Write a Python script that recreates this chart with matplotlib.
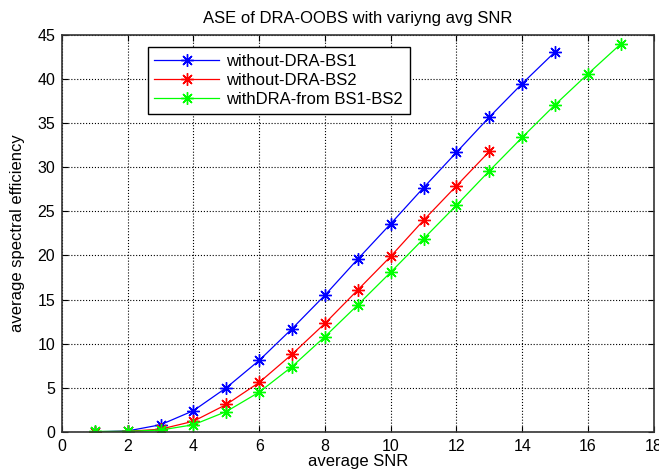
import numpy as np
import matplotlib.pyplot as plt

snr_bs1 = [1, 2, 3, 4, 5, 6, 7, 8, 9, 10, 11, 12, 13, 14, 15]
ase_bs1 = [0.0, 0.1, 0.8, 2.4, 5.0, 8.1, 11.7, 15.5, 19.6, 23.6, 27.7, 31.7, 35.7, 39.5, 43.1]

snr_bs2 = [1, 2, 3, 4, 5, 6, 7, 8, 9, 10, 11, 12, 13]
ase_bs2 = [0.0, 0.05, 0.3, 1.2, 3.1, 5.6, 8.8, 12.3, 16.1, 19.9, 24.0, 27.9, 31.8]

snr_dra = [1, 2, 3, 4, 5, 6, 7, 8, 9, 10, 11, 12, 13, 14, 15, 16, 17]
ase_dra = [0.05, 0.05, 0.2, 0.8, 2.3, 4.5, 7.4, 10.8, 14.4, 18.1, 21.9, 25.7, 29.6, 33.4, 37.1, 40.6, 44.0]

plt.rcParams['font.family'] = ['Liberation Sans', 'DejaVu Sans']

fig = plt.figure(figsize=(6.59, 4.74), dpi=100)
ax = fig.add_axes([0.094, 0.089, 0.898, 0.837])

star = (8, 2, 0)  # matlab-like asterisk
ax.plot(snr_bs1, ase_bs1, color='b', marker=star, markersize=9, mew=1.0, lw=0.9, label='without-DRA-BS1')
ax.plot(snr_bs2, ase_bs2, color='r', marker=star, markersize=9, mew=1.0, lw=0.9, label='without-DRA-BS2')
ax.plot(snr_dra, ase_dra, color='#00ff00', marker=star, markersize=9, mew=1.0, lw=0.9, label='withDRA-from BS1-BS2')

ax.set_xlim(0, 18)
ax.set_ylim(0, 45)
ax.set_xticks(np.arange(0, 19, 2))
ax.set_yticks(np.arange(0, 46, 5))
ax.tick_params(direction='in', labelsize=11.5, top=True, right=True, length=4, pad=5)
ax.grid(True, color='k', linestyle=':', linewidth=0.8)
for s in ax.spines.values():
    s.set_linewidth(1.2)
    s.set_color('#333333')

ax.set_title('ASE of DRA-OOBS with variyng avg SNR', fontsize=12, pad=9)
ax.set_xlabel('average SNR', fontsize=12, labelpad=0)
ax.set_ylabel('average spectral efficiency', fontsize=12, labelpad=9)

leg = ax.legend(loc='upper left', bbox_to_anchor=(0.145, 0.97), borderaxespad=0, fontsize=12,
                fancybox=False, framealpha=1, edgecolor='k', handlelength=3.9,
                handletextpad=0.4, borderpad=0.4, labelspacing=0.25)
leg.get_frame().set_linewidth(1.0)

fig.savefig('out.png')
